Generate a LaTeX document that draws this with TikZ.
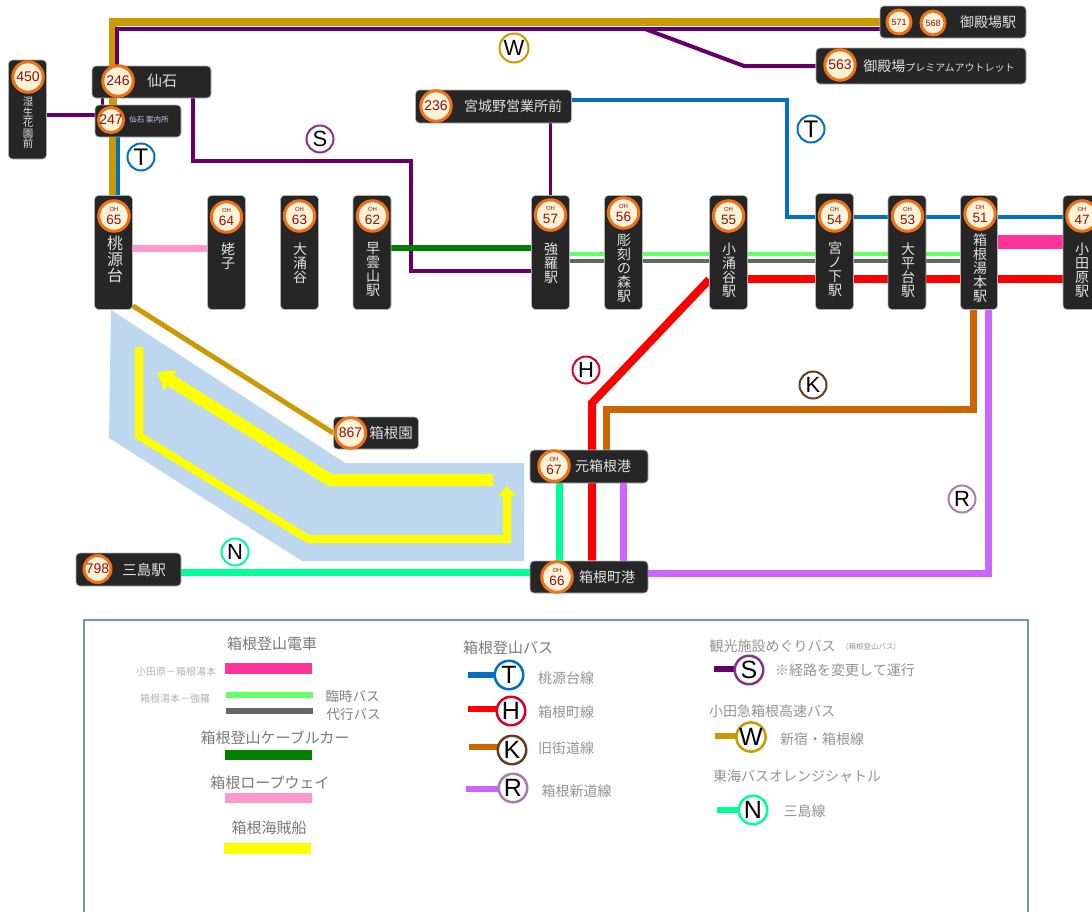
\documentclass[tikz,border=0pt]{standalone}
\usepackage{fontspec}
\setmainfont{Noto Sans CJK JP}
\newfontfamily\latinfont{Liberation Sans}
\usepackage{xcolor}
\usepackage{tikz}
\usetikzlibrary{arrows.meta,positioning,backgrounds}
\definecolor{wgold}{RGB}{204,153,0}
\definecolor{spurple}{RGB}{102,0,102}
\definecolor{tblue}{RGB}{0,112,192}
\definecolor{hred}{RGB}{255,0,0}
\definecolor{kbrown}{RGB}{204,102,0}
\definecolor{rviolet}{RGB}{204,102,255}
\definecolor{nmint}{RGB}{0,255,153}
\definecolor{cablegreen}{RGB}{0,128,0}
\definecolor{ropepink}{RGB}{255,153,204}
\definecolor{trainpink}{RGB}{255,51,153}
\definecolor{altgreen}{RGB}{102,255,102}
\definecolor{altgray}{RGB}{102,102,102}
\definecolor{lakeblue}{RGB}{189,215,238}
\definecolor{boatyellow}{RGB}{255,255,0}
\definecolor{boxdark}{RGB}{38,38,38}
\definecolor{badgefill}{RGB}{255,242,214}
\definecolor{badgering}{RGB}{240,112,24}
\definecolor{badgetext}{RGB}{139,20,20}
\definecolor{stationtext}{RGB}{225,225,225}
\definecolor{framecol}{RGB}{115,150,189}
\newcommand{\ohnum}[1]{{\fontsize{6}{6}\selectfont OH}\\[-1pt]{\fontsize{13.5}{13.5}\selectfont #1}}

\begin{document}
\begin{tikzpicture}[
    x=1pt, y=-1pt,
    stationbox/.style={rectangle, draw=gray!60, line width=0.6pt, fill=boxdark, rounded corners=4pt, inner sep=0pt},
    tallbox/.style={stationbox, minimum width=38pt, minimum height=114pt},
    badge/.style={circle, draw=badgering, line width=3pt, fill=badgefill, text=badgetext, inner sep=0pt, minimum size=30.5pt, align=center, font=\latinfont\fontsize{14}{14}\selectfont},
    stationlabel/.style={text=stationtext, inner sep=0pt, align=center, font=\fontsize{14}{14}\selectfont},
    route/.style={line width=#1, line join=miter},
    linemark/.style={circle, line width=2pt, fill=white, inner sep=0pt, minimum size=27pt, font=\latinfont\fontsize{22}{22}\selectfont},
    legendmark/.style={linemark, line width=2.5pt, minimum size=28.5pt, font=\latinfont\fontsize{25}{25}\selectfont},
    swatch/.style={rectangle, inner sep=0pt, minimum width=87pt},
    legendhead/.style={text=gray!95!black, inner sep=0pt, font=\fontsize{15}{15}\selectfont},
    legendtext/.style={text=gray!85, inner sep=0pt, font=\fontsize{14}{14}\selectfont},
    legendsmall/.style={text=gray!60, inner sep=0pt, font=\fontsize{10}{10}\selectfont}
]
    \useasboundingbox (0,0) rectangle (1092,911);

    % Station boxes
    \node[tallbox, minimum height=99pt] (st450) at (27.5,109.5) {};
    \node[stationbox, minimum width=119pt, minimum height=32pt] (st246) at (151.5,82) {};
    \node[stationbox, minimum width=86pt, minimum height=32pt] (st247) at (138,121) {};
    \node[tallbox] (st65) at (113.5,252.5) {};
    \node[tallbox] (st64) at (226.5,252.5) {};
    \node[tallbox] (st63) at (299.5,252.5) {};
    \node[tallbox] (st62) at (372,252.5) {};
    \node[tallbox] (st57) at (550.5,252.5) {};
    \node[tallbox] (st56) at (623.5,252.5) {};
    \node[tallbox] (st55) at (728.5,252.5) {};
    \node[tallbox, minimum height=116pt] (st54) at (834.5,251.5) {};
    \node[tallbox] (st53) at (907,252.5) {};
    \node[tallbox, minimum width=37pt] (st51) at (979,252.5) {};
    \node[tallbox] (st47) at (1082,252.5) {};
    \node[stationbox, minimum width=146pt, minimum height=32pt] (st571) at (953,22) {};
    \node[stationbox, minimum width=210pt, minimum height=36pt] (st563) at (921,66) {};
    \node[stationbox, minimum width=156pt, minimum height=33pt] (st236) at (493.5,106.5) {};
    \node[stationbox, minimum width=85pt, minimum height=32pt] (st867) at (376,433) {};
    \node[stationbox, minimum width=118pt, minimum height=33pt] (st67) at (589,466.5) {};
    \node[stationbox, minimum width=118pt, minimum height=32pt] (st66) at (589,577) {};
    \node[stationbox, minimum width=105pt, minimum height=33pt] (st798) at (128.5,569.5) {};

    % Badges
    \node[badge] (b450) at (28,77) {450};
    \node[badge] (b246) at (118,81) {246};
    \node[badge, minimum size=25pt] (b247) at (111,120) {247};
    \node[badge] (b65) at (114,216) {\ohnum{65}};
    \node[badge] (b64) at (226.5,217) {\ohnum{64}};
    \node[badge] (b63) at (299.5,216) {\ohnum{63}};
    \node[badge] (b62) at (372.5,216) {\ohnum{62}};
    \node[badge] (b57) at (550.5,215) {\ohnum{57}};
    \node[badge] (b56) at (623.5,213) {\ohnum{56}};
    \node[badge] (b55) at (728.5,216) {\ohnum{55}};
    \node[badge] (b54) at (834.5,216) {\ohnum{54}};
    \node[badge] (b53) at (907.5,216) {\ohnum{53}};
    \node[badge] (b51) at (980,214) {\ohnum{51}};
    \node[badge] (b47) at (1082,216) {\ohnum{47}};
    \node[badge, minimum size=24pt, font=\latinfont\fontsize{9}{9}\selectfont] (b571) at (899,22) {571};
    \node[badge, minimum size=24pt, font=\latinfont\fontsize{9}{9}\selectfont] (b568) at (933,23) {568};
    \node[badge] (b563) at (840,65) {563};
    \node[badge] (b236) at (436,106) {236};
    \node[badge] (b867) at (350.5,433) {867};
    \node[badge] (b67) at (554,466) {\ohnum{67}};
    \node[badge] (b66) at (557,577) {\ohnum{66}};
    \node[badge, minimum size=27pt] (b798) at (97.5,569) {798};

    % Station names
    \node[stationlabel, font=\fontsize{10.5}{10.5}\selectfont] (n450) at (28,123) {湿\\生\\花\\園\\前};
    \node[stationlabel, font=\fontsize{15}{15}\selectfont] (n246) at (162,81) {仙石};
    \node[stationlabel, font=\fontsize{7.5}{7.5}\selectfont, text=gray!50!blue!30!white] (n247) at (149,120) {仙石 案内所};
    \node[stationlabel, font=\fontsize{16}{16}\selectfont] (n65) at (115,259) {桃\\源\\台};
    \node[stationlabel] (n64) at (228,256) {姥\\子};
    \node[stationlabel] (n63) at (300,263) {大\\涌\\谷};
    \node[stationlabel] (n62) at (373,270) {早\\雲\\山\\駅};
    \node[stationlabel] (n57) at (551,263) {強\\羅\\駅};
    \node[stationlabel] (n56) at (624,268) {彫\\刻\\の\\森\\駅};
    \node[stationlabel] (n55) at (729,270) {小\\涌\\谷\\駅};
    \node[stationlabel] (n54) at (835,269) {宮\\ノ\\下\\駅};
    \node[stationlabel] (n53) at (908,270) {大\\平\\台\\駅};
    \node[stationlabel] (n51) at (980,268) {箱\\根\\湯\\本\\駅};
    \node[stationlabel] (n47) at (1082,270) {小\\田\\原\\駅};
    \node[stationlabel] (n571) at (988,22) {御殿場駅};
    \node[stationlabel] (n563) at (939,66) {御殿場{\fontsize{10}{10}\selectfont プレミアムアウトレット}};
    \node[stationlabel] (n236) at (513,106) {宮城野営業所前};
    \node[stationlabel, font=\fontsize{14.5}{14.5}\selectfont] (n867) at (391,433) {箱根園};
    \node[stationlabel] (n67) at (603,466) {元箱根港};
    \node[stationlabel] (n66) at (607,577) {箱根町港};
    \node[stationlabel, font=\fontsize{14.5}{14.5}\selectfont] (n798) at (144,570) {三島駅};

    % Line marks
    \node[linemark, draw=tblue, font=\latinfont\fontsize{24}{24}\selectfont] (markt1) at (141,157) {T};
    \node[linemark, draw=tblue, font=\latinfont\fontsize{24}{24}\selectfont] (markt2) at (811,129) {T};
    \node[linemark, draw=spurple!80] (marks) at (320,139) {S};
    \node[linemark, draw=wgold, minimum size=29pt] (markw) at (514,48) {W};
    \node[linemark, draw=red!85!blue] (markh) at (586,370) {H};
    \node[linemark, draw=brown!50!black] (markk) at (813,385) {K};
    \node[linemark, draw=violet!45!gray!70] (markr) at (962,499) {R};
    \node[linemark, draw=nmint] (markn) at (235,552) {N};

    % Route corners
    \coordinate (sfork) at (645,29);
    \coordinate (sbend) at (744,66);
    \coordinate (sturn) at (411,161);
    \coordinate (tturn) at (787,217);
    \coordinate (hturn) at (592,403);
    \coordinate (kturn) at (606,409);
    \coordinate (boat1a) at (139,347);
    \coordinate (boat1b) at (139,436);
    \coordinate (boat1c) at (308,539);
    \coordinate (boat1d) at (507,539);
    \coordinate (boat1e) at (507,486);
    \coordinate (boat2a) at (493,480);
    \coordinate (boat2b) at (330,480);
    \coordinate (boat2c) at (157,372);

    % Routes
    \begin{scope}[on background layer]
        \fill[lakeblue] (111,310) -- (345,463) -- (524,463) -- (524,561) -- (302,561) -- (109,438) -- cycle;
        \draw[route=8pt, boatyellow, -{Triangle[width=17pt,length=10pt]}] (boat1a) -- (boat1b) -- (boat1c) -- (boat1d) -- (boat1e);
        \draw[route=12pt, boatyellow, -{Triangle[width=23pt,length=16pt]}] (boat2a) -- (boat2b) -- (boat2c);

        \draw[route=8pt, wgold] ([xshift=-0.5pt]st65.north) |- (st571.west);
        \draw[route=5pt, wgold] ([yshift=4pt]st65.south east) -- (st867.west);
        \draw[route=4pt, spurple] ([xshift=-34.5pt]st246.north) |- ([yshift=-7pt]st571.west);
        \draw[route=4pt, spurple] (sfork) -- (sbend) -- (st563.west);
        \draw[route=4pt, spurple] ([xshift=41.5pt]st246.south) |- (sturn) |- ([yshift=-18.5pt]st57.west);
        \draw[route=3pt, spurple] ([xshift=-49.5pt]st246.south) -- ([xshift=-36pt]st247.north);
        \draw[route=3.5pt, spurple] ([yshift=-5.5pt]st450.east) -- ([yshift=6pt]st247.west);
        \draw[route=3.5pt, spurple] ([xshift=57pt]st236.south) -- (st57.north);
        \draw[route=4pt, tblue] ([xshift=-20pt]st247.south) -- ([xshift=4.5pt]st65.north);
        \draw[route=4pt, tblue] ([yshift=6.5pt]st236.east) -| (tturn) -- ([yshift=35.5pt]st47.west);
        \draw[route=7pt, ropepink] ([yshift=4.5pt]st65.east) -- ([yshift=4.5pt]st64.west);
        \draw[route=6pt, cablegreen] ([yshift=4.5pt]st62.east) -- ([yshift=4.5pt]st57.west);
        \draw[route=4pt, altgreen] ([yshift=-1.5pt]st57.east) -- ([yshift=-1.5pt]st51.west);
        \draw[route=3.5pt, altgray] ([yshift=-8.5pt]st57.east) -- ([yshift=-8.5pt]st51.west);
        \draw[route=14pt, trainpink] ([yshift=10.5pt]st51.east) -- ([yshift=10.5pt]st47.west);
        \draw[route=8pt, hred] ([yshift=-26.5pt]st55.east) -- ([yshift=-26.5pt]st47.west);
        \draw[route=8pt, hred] ([yshift=-27pt]st55.west) -- (hturn) -- ([xshift=3pt]st66.north);
        \draw[route=7pt, kbrown] ([xshift=-6pt]st51.south) |- (kturn) -- ([xshift=17pt]st67.north);
        \draw[route=7pt, rviolet] ([xshift=9pt]st51.south) |- ([yshift=4pt]st66.east);
        \draw[route=7pt, rviolet] ([xshift=34pt]st67.south) -- ([xshift=34pt]st66.north);
        \draw[route=7pt, nmint] ([yshift=-2.5pt]st798.east) -- ([yshift=5pt]st66.west);
        \draw[route=7pt, nmint] ([xshift=-30pt]st67.south) -- ([xshift=-30pt]st66.north);
    \end{scope}

    % Legend frame
    \draw[framecol, line width=1.5pt] (84,915) -- (84,620) -- (1028,620) -- (1028,915);

    % Legend, rail and boats
    \node[legendhead] (headrail) at (272,644) {箱根登山電車};
    \node[legendsmall] (odawara) at (176,672) {小田原－箱根湯本};
    \node[swatch, fill=trainpink, minimum height=11pt] (swtrain) at (268.5,668.5) {};
    \node[legendsmall] (gora) at (175,699) {箱根湯本－強羅};
    \node[swatch, fill=altgreen, minimum height=6pt] (swalt) at (269.5,695) {};
    \node[swatch, fill=altgray, minimum height=6pt] (swgray) at (269.5,711) {};
    \node[legendtext, text=gray, font=\fontsize{13.5}{13.5}\selectfont] (rinji) at (352.5,696) {臨時バス};
    \node[legendtext, text=gray, font=\fontsize{13.5}{13.5}\selectfont] (daiko) at (353.5,714) {代行バス};
    \node[legendhead] (headcable) at (275,738) {箱根登山ケーブルカー};
    \node[swatch, fill=cablegreen, minimum height=10pt] (swcable) at (268,755) {};
    \node[legendhead] (headrope) at (270,783) {箱根ロープウェイ};
    \node[swatch, fill=ropepink, minimum height=10pt] (swrope) at (268.5,798) {};
    \node[legendhead] (headboat) at (269,828) {箱根海賊船};
    \node[swatch, fill=boatyellow, minimum height=11pt] (swboat) at (267.5,848.5) {};

    % Legend, buses
    \node[legendhead] (headbus) at (508,648) {箱根登山バス};
    \node[legendmark, draw=tblue] (legt) at (509,675) {T};
    \node[legendtext] (namet) at (566,678) {桃源台線};
    \node[legendmark, draw=red!85!blue] (legh) at (511,711) {H};
    \node[legendtext] (nameh) at (566,712) {箱根町線};
    \node[legendmark, draw=brown!50!black] (legk) at (512,750) {K};
    \node[legendtext] (namek) at (566,748) {旧街道線};
    \node[legendmark, draw=violet!45!gray!70] (legr) at (513,788) {R};
    \node[legendtext] (namer) at (576.5,791) {箱根新道線};
    \node[legendtext] (heads) at (772.5,646) {観光施設めぐりバス};
    \node[legendtext, font=\fontsize{7.5}{7.5}\selectfont] (headssub) at (871,647) {(箱根登山バス)};
    \node[legendmark, draw=spurple!80] (legs) at (749,670) {S};
    \node[legendtext] (names) at (845,670) {※経路を変更して運行};
    \node[legendtext] (headw) at (772,711) {小田急箱根高速バス};
    \node[legendmark, draw=wgold] (legw) at (751,737) {W};
    \node[legendtext] (namew) at (822,739) {新宿・箱根線};
    \node[legendtext] (headn) at (797,776) {東海バスオレンジシャトル};
    \node[legendmark, draw=nmint] (legn) at (753,810) {N};
    \node[legendtext] (namen) at (804.5,811) {三島線};

    % Legend stems
    \coordinate (stemt) at (468,675);
    \coordinate (stemh) at (468,709);
    \coordinate (stemk) at (469,747);
    \coordinate (stemr) at (466,789);
    \coordinate (stems) at (714,669);
    \coordinate (stemw) at (715,736);
    \coordinate (stemn) at (717,810);
    \begin{scope}[on background layer]
        \draw[route=6pt, tblue] (stemt) -- (stemt -| legt);
        \draw[route=6pt, hred] (stemh) -- (stemh -| legh);
        \draw[route=6pt, kbrown] (stemk) -- (stemk -| legk);
        \draw[route=6pt, rviolet] (stemr) -- (stemr -| legr);
        \draw[route=6pt, spurple] (stems) -- (stems -| legs);
        \draw[route=6pt, wgold] (stemw) -- (stemw -| legw);
        \draw[route=6pt, nmint] (stemn) -- (stemn -| legn);
    \end{scope}

\end{tikzpicture}
\end{document}
